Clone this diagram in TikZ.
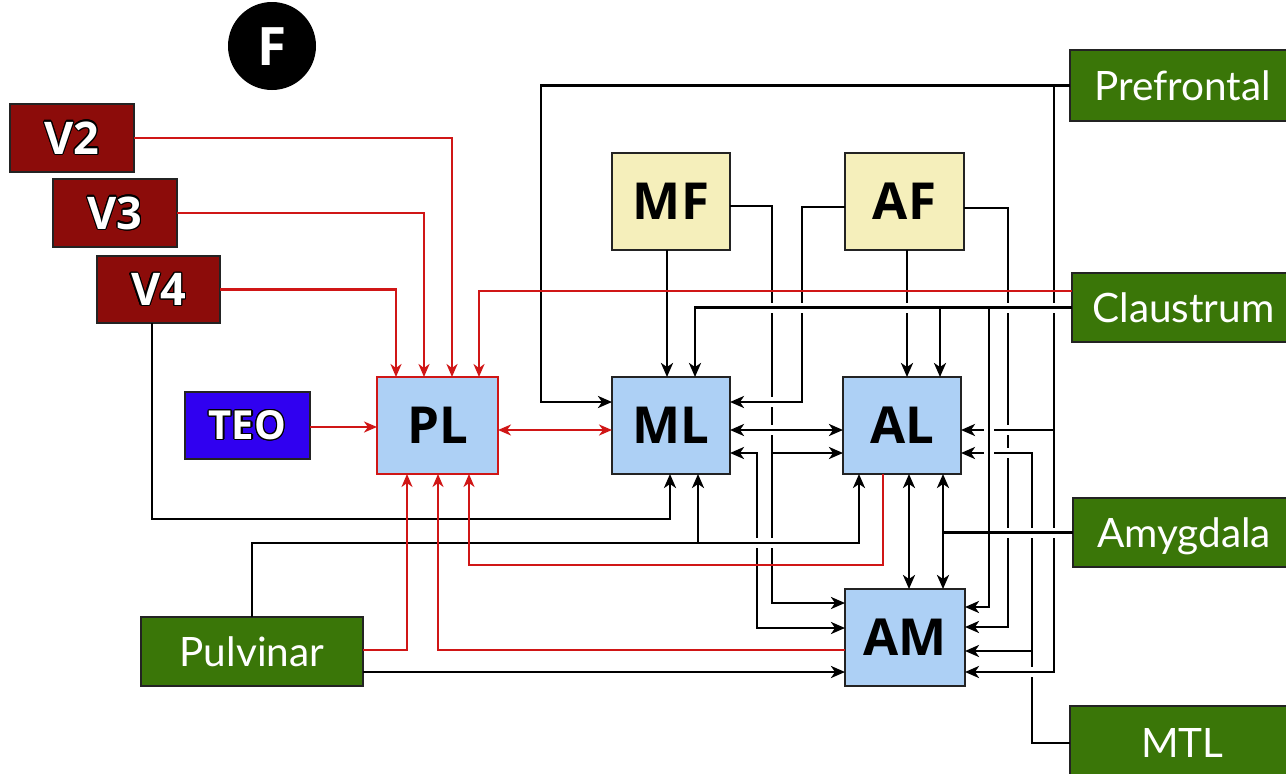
\documentclass[tikz,border=0pt]{standalone}
\usepackage{fontspec}
\setmainfont{Open Sans}
\newfontfamily\gfont{Lato}
\usepackage{contour}
\contourlength{1.2pt}
\usetikzlibrary{arrows.meta}
\definecolor{vred}{RGB}{140,12,10}
\definecolor{teoblue}{RGB}{48,0,240}
\definecolor{lblue}{RGB}{173,208,245}
\definecolor{lyellow}{RGB}{245,239,187}
\definecolor{dgreen}{RGB}{58,118,8}
\definecolor{lred}{RGB}{208,22,22}
\definecolor{bord}{RGB}{35,35,35}
\newcommand\vhop[1]{%
  \fill[white] ([xshift=-2.8pt,yshift=-5pt]#1) rectangle ([xshift=2.8pt,yshift=5pt]#1);
  \draw[bk] ([xshift=-3.4pt]#1) -- ([xshift=3.4pt]#1);}
\newcommand\hhop[1]{%
  \fill[white] ([xshift=-5pt,yshift=-2.8pt]#1) rectangle ([xshift=5pt,yshift=2.8pt]#1);
  \draw[bk] ([yshift=-3.4pt]#1) -- ([yshift=3.4pt]#1);}
\begin{document}
\begin{tikzpicture}[x=1pt,y=-1pt,
  every node/.style={inner sep=0pt,outer sep=0pt},
  vbox/.style={draw=bord,line width=2pt,fill=vred,text=white,minimum width=124pt,minimum height=68pt,
    font=\fontsize{45}{45}\selectfont\bfseries,text height=32pt,text depth=0pt},
  teobox/.style={draw=bord,line width=2pt,fill=teoblue,text=white,minimum width=125pt,minimum height=67pt,
    font=\fontsize{40}{40}\selectfont\bfseries,text height=28pt,text depth=0pt},
  lb/.style={draw=bord,line width=2pt,fill=lblue,minimum width=119pt,minimum height=97pt,
    font=\fontsize{51}{51}\selectfont\bfseries,text height=36pt,text depth=0pt},
  yb/.style={lb,fill=lyellow},
  gbox/.style={draw=bord,line width=1.5pt,fill=dgreen,text=white,minimum width=225pt,minimum height=70pt,
    font=\gfont\fontsize{40.5}{40.5}\selectfont,text height=29pt,text depth=0pt},
  bk/.style={line width=2.6pt,draw=black},
  rd/.style={line width=2.6pt,draw=lred},
  bka/.style={bk,-{Stealth[length=14pt,width=12pt,inset=4pt]}},
  bkd/.style={bk,{Stealth[length=14pt,width=12pt,inset=4pt]}-{Stealth[length=14pt,width=12pt,inset=4pt]}},
  rda/.style={rd,-{Stealth[length=13pt,width=11pt,inset=4pt]}},
  rdd/.style={rd,{Stealth[length=13pt,width=11pt,inset=4pt]}-{Stealth[length=13pt,width=11pt,inset=4pt]}},
]
\useasboundingbox (0,0) rectangle (1286,774);
\clip (0,0) rectangle (1286,774);
\fill[white] (0,0) rectangle (1286,774);

% nodes
\node[circle,fill=black,minimum size=88pt,text=white,font=\fontsize{53}{53}\selectfont\bfseries,text height=38pt,text depth=0pt] (F) at (272,46) {F};
\node[vbox] (V2) at (72,138) {\contour{black}{V2}};
\node[vbox] (V3) at (115,213) {\contour{black}{V3}};
\node[vbox,minimum width=123pt,minimum height=67pt] (V4) at (158.5,289.5) {\contour{black}{V4}};
\node[teobox] (TEO) at (247.5,425.5) {\contour{black}{TEO}};
\node[lb,draw=lred,minimum width=121pt] (PL) at (437.5,425.5) {PL};
\node[lb,minimum width=118pt] (ML) at (671,425.5) {ML};
\node[yb,minimum width=118pt] (MF) at (671,201.5) {MF};
\node[yb] (AF) at (904.5,201.5) {AF};
\node[lb,minimum width=118pt] (AL) at (902,425.5) {AL};
\node[lb,minimum width=120pt] (AM) at (905,637.5) {AM};
\node[gbox,minimum height=71pt] (Prefrontal) at (1182.5,85.5) {Prefrontal};
\node[gbox,minimum width=223pt,minimum height=69pt] (Claustrum) at (1183.5,307.5) {Claustrum};
\node[gbox,minimum width=222pt,minimum height=69pt] (Amygdala) at (1184,532.5) {Amygdala};
\node[gbox,minimum height=74pt] (MTL) at (1182.5,743) {MTL};
\node[gbox,minimum width=222pt,minimum height=69pt] (Pulvinar) at (252,651.5) {Pulvinar};

% helper coordinates
\coordinate (pv) at ([xshift=-16pt]Prefrontal.west);
\coordinate (c1) at ([xshift=38pt]AL.north);
\coordinate (c2) at ([xshift=24pt,yshift=30.5pt]AM.east);
\coordinate (c3) at ([xshift=41pt]AL.south);
\coordinate (c4) at ([xshift=71pt,yshift=-27.5pt]AL.east);
\coordinate (c5) at ([yshift=-13.5pt]AM.east);
\coordinate (c6) at ([yshift=-34.5pt]AM.west);
\coordinate (c7) at ([xshift=-19pt,yshift=-91pt]AL.south);
\coordinate (c8) at ([xshift=43pt,yshift=10.5pt]AM.east);
\coordinate (a430) at ([yshift=-4.5pt]AL.east);
\coordinate (a453) at ([yshift=-27.5pt]AL.east);
\coordinate (x772) at ([xshift=-71pt,yshift=-27.5pt]AL.west);
\coordinate (x757) at ([xshift=-88pt,yshift=9.5pt]AM.west);
\coordinate (x667) at ([xshift=-4pt]MF.south);
\coordinate (x802) at ([xshift=72pt,yshift=23.5pt]ML.east);
\coordinate (x907) at ([xshift=2.5pt]AF.south);
\coordinate (y543) at ([xshift=27pt,yshift=-69pt]ML.south);

% black connectors
\draw[bka] (Prefrontal.west) -| ([xshift=-71pt,yshift=23.5pt]ML.west) -- ([yshift=23.5pt]ML.west);
\draw[bka] (pv) |- (a430);
\draw[bka] (pv) |- ([yshift=-34.5pt]AM.east);
\draw[bka] (x667) -- ([xshift=-4pt]ML.north);
\draw[bka] ([yshift=-4.5pt]MF.east) -| (x772) -- ([yshift=-27.5pt]AL.west);
\draw[bka] ([yshift=-4.5pt]MF.east) -| ([xshift=-73pt,yshift=34.5pt]AM.west) -- ([yshift=34.5pt]AM.west);
\draw[bka] ([yshift=-5.5pt]AF.west) -| (x802) -- ([yshift=23.5pt]ML.east);
\draw[bka] (x907) -- ([xshift=5pt]AL.north);
\draw[bka] ([yshift=-6.5pt]AF.east) -| (c8) -- ([yshift=10.5pt]AM.east);
\draw[bka] (Claustrum.west) -| ([xshift=24pt]ML.north);
\draw[bka] (c1 |- Claustrum.west) -- (c1);
\draw[bka] (c2 |- Claustrum.west) -- (c2) -- ([yshift=30.5pt]AM.east);
\draw[bkd] ([yshift=-4.5pt]ML.east) -- ([yshift=-4.5pt]AL.west);
\draw[bkd] ([yshift=-27.5pt]ML.east) -| (x757) -- ([yshift=9.5pt]AM.west);
\draw[bkd] ([xshift=7pt]AL.south) -- ([xshift=4pt]AM.north);
\draw[bkd] ([xshift=41pt]AL.south) -- ([xshift=38pt]AM.north);
\draw[bk] (Amygdala.west) -- (Amygdala.west -| c3);
\draw[bka] (MTL.west) -| (c4) -- (a453);
\draw[bka] (c4 |- c5) -- (c5);
\draw[bka] ([xshift=-6.5pt]V4.south) |- ([xshift=-1pt,yshift=-45pt]ML.south) -- ([xshift=-1pt]ML.south);
\draw[bka] (Pulvinar.north) |- (y543) -- ([xshift=27pt]ML.south);
\draw[bka] (Pulvinar.north) |- ([xshift=-43pt,yshift=-69pt]AL.south) -- ([xshift=-43pt]AL.south);
\draw[bka] (Pulvinar.east |- c6) -- (c6);

% line hops: vertical line broken where a horizontal crosses it
\foreach \a/\b in {x772/Claustrum.west, x772/x802, x772/a430, x772/y543, x757/y543,
                   x802/Claustrum.west, x907/Claustrum.west,
                   c8/Claustrum.west, c8/a430, c8/a453, c8/Amygdala.west,
                   c4/Amygdala.west, c4/c6, pv/Claustrum.west, pv/Amygdala.west}{
  \coordinate (hp) at (\a |- \b);
  \vhop{hp}
}
% horizontal line broken where it crosses the vertical at c2
\foreach \b in {a430,a453}{
  \coordinate (hp) at (c2 |- \b);
  \hhop{hp}
}

% red connectors
\draw[rda] (V2.east) -| ([xshift=14.5pt]PL.north);
\draw[rda] (V3.east) -| ([xshift=-13.5pt]PL.north);
\draw[rda] (V4.east) -| ([xshift=-41.5pt]PL.north);
\draw[rda] ([yshift=16.5pt]Claustrum.west) -| ([xshift=41.5pt]PL.north);
\draw[rda] ([yshift=-1.5pt]TEO.east) -- ([yshift=-1.5pt]PL.west);
\draw[rdd] ([yshift=-4.5pt]PL.east) -- ([yshift=-4.5pt]ML.west);
\draw[rda] ([yshift=1.5pt]Pulvinar.east) -| ([xshift=-30.5pt]PL.south);
\draw[rda] ([yshift=-12.5pt]AM.west) -| ([xshift=0.5pt]PL.south);
\draw[rda] ([xshift=-19pt]AL.south) -- (c7) -| ([xshift=31.5pt]PL.south);
\end{tikzpicture}
\end{document}
